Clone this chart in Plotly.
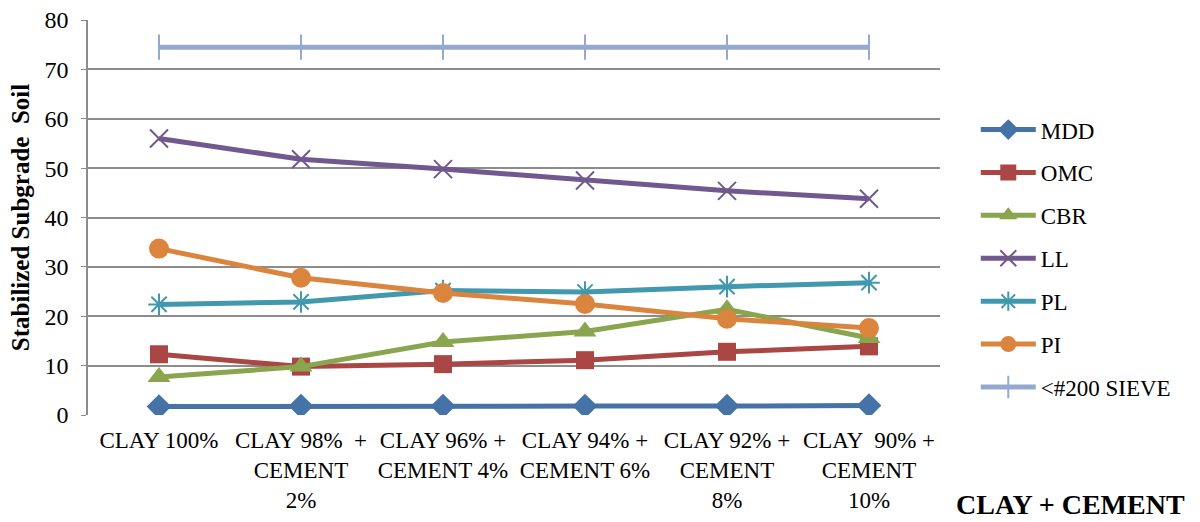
import plotly.graph_objects as go

categories = [
    "CLAY 100%",
    "CLAY 98%  +<br>CEMENT<br>2%",
    "CLAY 96% +<br>CEMENT 4%",
    "CLAY 94% +<br>CEMENT 6%",
    "CLAY 92% +<br>CEMENT<br>8%",
    "CLAY  90% +<br>CEMENT<br>10%",
]

mdd = [1.7, 1.8, 1.8, 1.8, 1.8, 1.9]
omc = [12.3, 9.8, 10.3, 11.1, 12.8, 13.9]
cbr = [7.7, 9.8, 14.8, 16.9, 21.4, 15.6]
ll = [56.0, 51.8, 49.8, 47.5, 45.4, 43.8]
pl = [22.4, 22.9, 25.2, 24.9, 26.0, 26.8]
pi = [33.7, 27.8, 24.7, 22.5, 19.5, 17.6]
sieve200 = [74.5, 74.5, 74.5, 74.5, 74.5, 74.5]

series = [
    ("MDD", mdd, "#4572A7", dict(symbol="diamond", size=19)),
    ("OMC", omc, "#AA4643", dict(symbol="square", size=18)),
    ("CBR", cbr, "#89A54E", dict(symbol="triangle-up", size=20)),
    ("LL", ll, "#71588F", dict(symbol="x-thin", size=18, line=dict(width=2, color="#71588F"))),
    ("PL", pl, "#4198AF", dict(symbol="asterisk", size=18, line=dict(width=2, color="#4198AF"))),
    ("PI", pi, "#DB843D", dict(symbol="circle", size=20)),
    ("<#200 SIEVE", sieve200, "#93A9CF", dict(symbol="line-ns", size=18, line=dict(width=2, color="#93A9CF"))),
]

serif = "Liberation Serif, Times New Roman, serif"

fig = go.Figure()
for i, (name, vals, color, marker) in enumerate(series):
    fig.add_trace(go.Scatter(
        x=categories, y=vals, name=name, mode="lines+markers",
        line=dict(color=color, width=5),
        marker=dict(color=color, **marker),
        legendgroup=f"g{i}",
    ))

fig.update_layout(
    width=1200, height=522,
    margin=dict(l=88, r=260, t=20, b=107),
    paper_bgcolor="white", plot_bgcolor="white",
    font=dict(family=serif, size=22, color="black"),
    showlegend=True,
    legend=dict(
        x=1.042, y=0.777, xanchor="left", yanchor="top",
        font=dict(family=serif, size=23, color="black"),
        tracegroupgap=10, itemwidth=55,
        bgcolor="rgba(0,0,0,0)",
    ),
    xaxis=dict(
        type="category", showgrid=False, zeroline=False, automargin=False,
        showline=False, ticks="", tickfont=dict(size=23), ticklabelstandoff=9,
        range=[-0.5, 5.5],
    ),
    yaxis=dict(
        range=[0, 80], dtick=10, showgrid=True, gridcolor="#8c8c8c", gridwidth=1.5,
        zeroline=False, showline=True, linecolor="#8c8c8c", linewidth=1.5,
        automargin=False,
        ticks="outside", ticklen=5, tickcolor="#8c8c8c",
        tickfont=dict(size=24), ticklabelstandoff=8,
        title=dict(text="<b>Stabilized Subgrade  Soil</b>", font=dict(size=25), standoff=8),
    ),
    annotations=[
        dict(text="<b>CLAY + CEMENT</b>", xref="paper", yref="paper",
             x=(1070 - 88) / 852, y=-(505 - 415) / 395, xanchor="center", yanchor="middle",
             showarrow=False, font=dict(family=serif, size=28, color="black")),
    ],
)

fig.write_html("out.html")
